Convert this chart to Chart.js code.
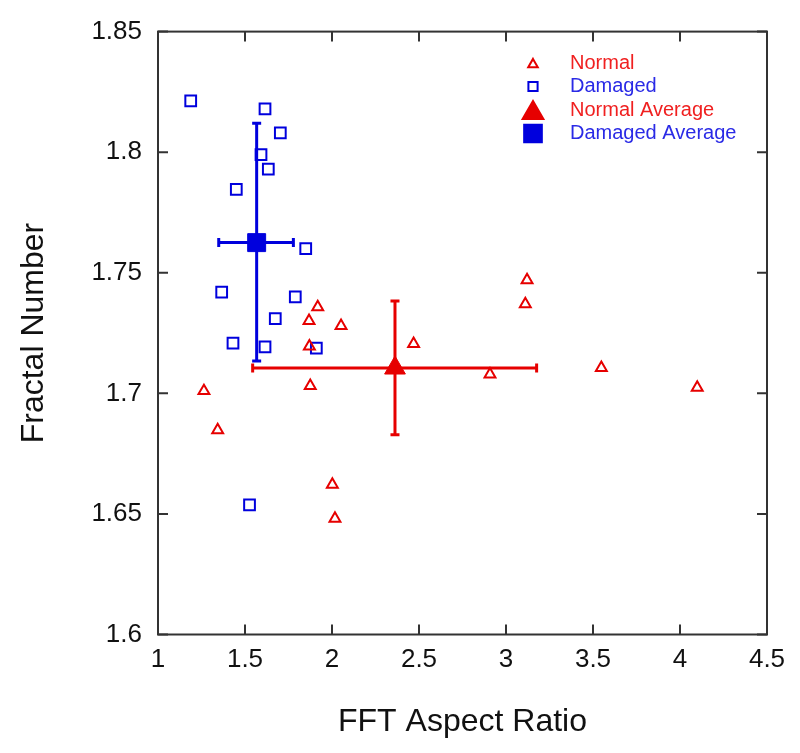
<!DOCTYPE html>
<html>
<head>
<meta charset="utf-8">
<script src="https://cdn.jsdelivr.net/npm/chart.js@4/dist/chart.umd.min.js"></script>
<style>
  body { margin: 0; background: #fff; }
  #wrap { width: 800px; height: 753px; }
</style>
</head>
<body>
<div id="wrap"><canvas id="chart" width="800" height="753"></canvas></div>
<script>
// values
const normalX = [1.918, 1.868, 2.052, 1.870, 2.469, 1.875, 1.264, 1.343, 2.002, 2.017, 3.121, 3.111, 2.908, 3.548, 4.099];
const normalY = [1.7358, 1.7301, 1.7280, 1.7195, 1.7205, 1.7031, 1.7010, 1.6848, 1.6622, 1.6481, 1.7470, 1.7370, 1.7079, 1.7106, 1.7024];
const damagedX = [1.188, 1.615, 1.703, 1.592, 1.634, 1.450, 1.849, 1.366, 1.789, 1.674, 1.431, 1.615, 1.910, 1.526];
const damagedY = [1.8213, 1.8180, 1.8080, 1.7990, 1.7930, 1.7846, 1.7600, 1.7420, 1.7400, 1.7310, 1.7208, 1.7193, 1.7187, 1.6537];

const normalAvg = [2.362, 1.7105];
const normalXErr = [1.544, 3.176];
const normalYErr = [1.6828, 1.7383];
const damagedAvg = [1.567, 1.7625];
const damagedXErr = [1.349, 1.778];
const damagedYErr = [1.7134, 1.812];

const xTicks = [1, 1.5, 2, 2.5, 3, 3.5, 4, 4.5];
const yTicks = [1.6, 1.65, 1.7, 1.75, 1.8, 1.85];

const legendNames = ['Normal', 'Damaged', 'Normal Average', 'Damaged Average'];

const RED = '#e60000';
const BLUE = '#0000dd';

const pts = (xs, ys) => xs.map((x, i) => ({ x: x, y: ys[i] }));

function errBar(color, data, rot) {
  return {
    data: data,
    showLine: true,
    borderColor: color,
    borderWidth: 3,
    pointStyle: 'line',
    pointRotation: rot,
    pointRadius: 4.5,
    pointBorderWidth: 3,
    pointBorderColor: color,
    pointBackgroundColor: color
  };
}

// inward ticks + box frame
const framePlugin = {
  id: 'frame',
  afterDatasetsDraw(chart) {
    const { ctx, chartArea: a, scales } = chart;
    ctx.save();
    ctx.strokeStyle = '#333';
    ctx.lineWidth = 2;
    ctx.strokeRect(a.left, a.top, a.right - a.left, a.bottom - a.top);
    ctx.beginPath();
    xTicks.forEach(v => {
      const px = scales.x.getPixelForValue(v);
      ctx.moveTo(px, a.bottom); ctx.lineTo(px, a.bottom - 10);
      ctx.moveTo(px, a.top); ctx.lineTo(px, a.top + 10);
    });
    yTicks.forEach(v => {
      const py = scales.y.getPixelForValue(v);
      ctx.moveTo(a.left, py); ctx.lineTo(a.left + 10, py);
      ctx.moveTo(a.right, py); ctx.lineTo(a.right - 10, py);
    });
    ctx.stroke();
    ctx.restore();
  }
};

const legendPlugin = {
  id: 'boxLegend',
  afterDraw(chart) {
    const ctx = chart.ctx;
    const styles = [
      { pointStyle: 'triangle', radius: 5.5, fill: false, color: RED, text: '#f02020' },
      { pointStyle: 'rect', radius: 6.5, fill: false, color: BLUE, text: '#2a2ae6' },
      { pointStyle: 'triangle', radius: 12, fill: true, color: RED, text: '#f02020' },
      { pointStyle: 'rect', radius: 12.5, fill: true, color: BLUE, text: '#2a2ae6' }
    ];
    ctx.save();
    ctx.font = '20px "Liberation Sans", Arial, sans-serif';
    ctx.textBaseline = 'middle';
    legendNames.forEach((name, i) => {
      const s = styles[i];
      const y = 63 + i * 23.5;
      ctx.strokeStyle = s.color;
      ctx.fillStyle = s.fill ? s.color : 'rgba(0,0,0,0)';
      ctx.lineWidth = 2;
      Chart.helpers.drawPoint(ctx, { pointStyle: s.pointStyle, radius: s.radius, borderWidth: 2, rotation: 0 }, 533, s.pointStyle === 'triangle' ? y + s.radius * 0.25 : y);
      ctx.fillStyle = s.text;
      ctx.fillText(name, 570, y);
    });
    ctx.restore();
  }
};

new Chart(document.getElementById('chart'), {
  type: 'scatter',
  data: {
    datasets: [
      {
        label: legendNames[2],
        data: [{ x: normalAvg[0], y: normalAvg[1] }],
        pointStyle: 'triangle',
        pointRadius: 12,
        backgroundColor: RED,
        borderColor: RED,
        borderWidth: 1
      },
      {
        label: legendNames[3],
        data: [{ x: damagedAvg[0], y: damagedAvg[1] }],
        pointStyle: 'rect',
        pointRadius: 12.7,
        backgroundColor: BLUE,
        borderColor: BLUE,
        borderWidth: 1
      },
      errBar(BLUE, [{ x: damagedAvg[0], y: damagedYErr[0] }, { x: damagedAvg[0], y: damagedYErr[1] }], 0),
      errBar(BLUE, [{ x: damagedXErr[0], y: damagedAvg[1] }, { x: damagedXErr[1], y: damagedAvg[1] }], 90),
      errBar(RED, [{ x: normalAvg[0], y: normalYErr[0] }, { x: normalAvg[0], y: normalYErr[1] }], 0),
      errBar(RED, [{ x: normalXErr[0], y: normalAvg[1] }, { x: normalXErr[1], y: normalAvg[1] }], 90),
      {
        label: legendNames[0],
        data: pts(normalX, normalY),
        pointStyle: 'triangle',
        pointRadius: 6.3,
        backgroundColor: 'rgba(0,0,0,0)',
        borderColor: RED,
        borderWidth: 2
      },
      {
        label: legendNames[1],
        data: pts(damagedX, damagedY),
        pointStyle: 'rect',
        pointRadius: 7.6,
        backgroundColor: 'rgba(0,0,0,0)',
        borderColor: BLUE,
        borderWidth: 2
      }
    ]
  },
  options: {
    responsive: false,
    animation: false,
    layout: { padding: { top: 27, right: 33, left: 0, bottom: 0 } },
    plugins: { legend: { display: false }, tooltip: { enabled: false } },
    scales: {
      x: {
        type: 'linear',
        min: 1, max: 4.5,
        afterBuildTicks: s => { s.ticks = xTicks.map(v => ({ value: v })); },
        afterFit: s => { s.height = 118.5; },
        grid: { display: false, drawTicks: false },
        border: { display: false },
        ticks: {
          padding: 10,
          color: '#111',
          font: { family: '"Liberation Sans", Arial, sans-serif', size: 26 },
          callback: v => String(v)
        },
        title: {
          display: true,
          text: 'FFT Aspect Ratio',
          color: '#111',
          padding: { bottom: 12 },
          font: { family: '"Liberation Sans", Arial, sans-serif', size: 32 }
        }
      },
      y: {
        type: 'linear',
        min: 1.6, max: 1.85,
        afterBuildTicks: s => { s.ticks = yTicks.map(v => ({ value: v })); },
        afterFit: s => { s.width = 158; },
        grid: { display: false, drawTicks: false },
        border: { display: false },
        ticks: {
          padding: 16,
          color: '#111',
          font: { family: '"Liberation Sans", Arial, sans-serif', size: 26 },
          callback: v => String(v)
        },
        title: {
          display: true,
          text: 'Fractal Number',
          color: '#111',
          padding: { top: 15 },
          font: { family: '"Liberation Sans", Arial, sans-serif', size: 32 }
        }
      }
    }
  },
  plugins: [framePlugin, legendPlugin]
});
</script>
</body>
</html>
